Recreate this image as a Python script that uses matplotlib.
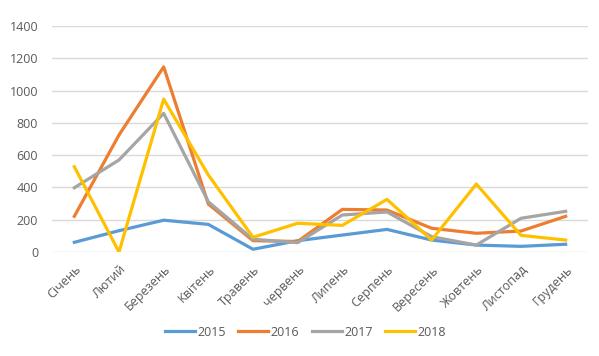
import matplotlib
matplotlib.use("Agg")
import matplotlib.pyplot as plt

months = ["Січень", "Лютий", "Березень", "Квітень", "Травень", "червень",
          "Липень", "Серпень", "Вересень", "Жовтень", "Листопад", "Грудень"]
y2015 = [60, 132, 197, 171, 17, 70, 105, 140, 74, 43, 35, 48]
y2016 = [221, 725, 1147, 297, 70, 65, 264, 260, 147, 116, 130, 221]
y2017 = [398, 570, 859, 311, 79, 58, 229, 248, 95, 43, 209, 252]
y2018 = [528, 0, 947, 477, 91, 178, 165, 326, 74, 421, 103, 74]
years = ["2015", "2016", "2017", "2018"]
colors = ["#5B9BD5", "#ED7D31", "#A5A5A5", "#FFC000"]

plt.rcParams['font.family'] = ['Open Sans', 'DejaVu Sans']

fig = plt.figure(figsize=(5.99, 3.56), dpi=100)
ax = fig.add_axes([52 / 599, 1 - 252 / 356, 536 / 599, 226 / 356])

x = list(range(len(months)))
for series, label, c in zip([y2015, y2016, y2017, y2018], years, colors):
    ax.plot(x, series, color=c, lw=2.3, label=label, solid_joinstyle='round', zorder=3)

ax.set_xlim(-0.5, len(months) - 0.5)
ax.set_ylim(0, 1400)
ax.set_yticks(range(0, 1401, 200))
ax.yaxis.grid(True, color="#D9D9D9", lw=1)
ax.set_axisbelow(True)
for s in ax.spines.values():
    s.set_visible(False)
ax.tick_params(length=0, colors="#595959", labelsize=9)
ax.tick_params(axis='y', pad=10)
ax.tick_params(axis='x', pad=8)
ax.set_xticks(x)
ax.set_xticklabels(months, rotation=45, ha='right', rotation_mode='anchor')

fig.legend(loc='center', bbox_to_anchor=(0.51, 1 - 332 / 356), ncol=4, frameon=False,
           fontsize=9, labelcolor="#595959", handlelength=2.4, columnspacing=1.0,
           handletextpad=0.2)

fig.savefig("out.png", dpi=100)
